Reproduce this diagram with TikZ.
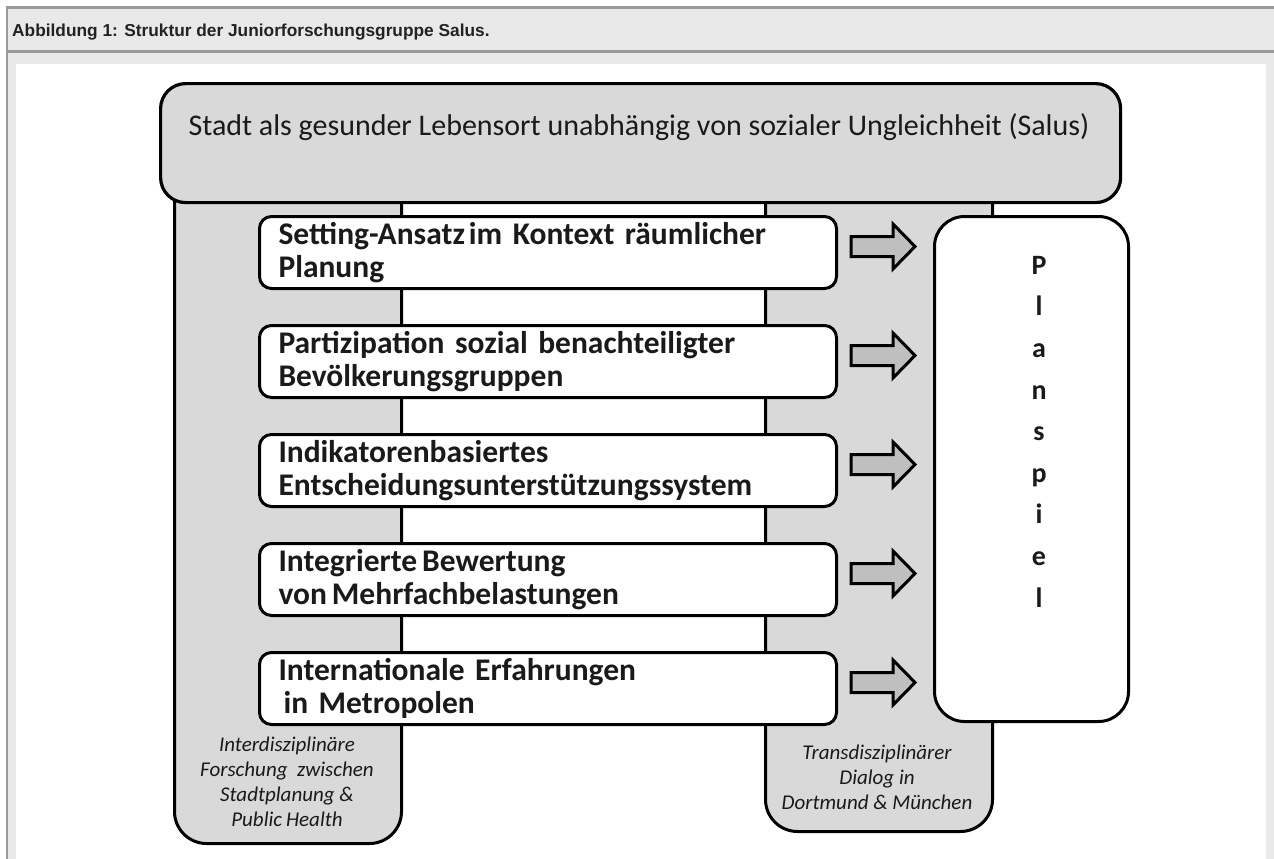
\documentclass[tikz,border=0pt]{standalone}
\usepackage{fontspec}
\setmainfont{Carlito}
\newfontfamily\arialfont{Liberation Sans}
\usetikzlibrary{calc}
\definecolor{framegray}{HTML}{E8E9E8}
\definecolor{frameline}{HTML}{9A9A9A}
\definecolor{fillgray}{HTML}{D9D9D9}
\definecolor{arrowgray}{HTML}{BFBFBF}
\definecolor{captext}{HTML}{222222}
\definecolor{ink}{HTML}{1A1A1A}
\tikzset{
  colbox/.style={draw=black, line width=3pt, fill=fillgray, rounded corners=32pt,
    inner sep=0pt, anchor=north west},
  topbox/.style={draw=black, line width=3.2pt, fill=fillgray, rounded corners=25pt,
    inner sep=0pt, anchor=north west, minimum width=960pt, minimum height=119pt},
  itembox/.style={draw=black, line width=3pt, fill=white, rounded corners=12pt,
    anchor=north west, minimum width=577pt, minimum height=72pt, text width=539pt,
    inner xsep=19pt, inner ysep=0pt, align=left, text=ink,
    font=\fontsize{31.5}{33}\selectfont\bfseries},
  planbox/.style={draw=black, line width=3pt, fill=white, rounded corners=30pt,
    inner sep=0pt, anchor=north west, minimum width=194pt, minimum height=505pt},
  arrowstyle/.style={draw=black, line width=3pt, fill=arrowgray, line join=miter},
  coltext/.style={align=center, text=ink, font=\fontsize{21}{25}\selectfont\itshape},
  blockarrow/.pic={\draw[arrowstyle] (0,-10) -- (42,-10) -- (42,-22.5) -- (64,0)
      -- (42,22.5) -- (42,10) -- (0,10) -- cycle;}
}
\begin{document}
\begin{tikzpicture}[x=1pt,y=-1pt]
\useasboundingbox (0,0) rectangle (1274,859);
% page frame
\fill[white] (0,0) rectangle (1274,859);
\fill[framegray] (7,7) rectangle (1274,859);
\fill[white] (16,64) rectangle (1266,859);
\draw[frameline, line width=2.5pt] (7,859) -- (7,7.5) -- (1274,7.5);
\draw[frameline, line width=2.5pt] (7,51.5) -- (1274,51.5);
\node[anchor=base west, inner sep=0pt, text=captext,
  font=\arialfont\bfseries\fontsize{17.3}{20}\selectfont] (caption) at (12,37)
  {Abbildung 1: Struktur der Juniorforschungsgruppe Salus.};
% columns
\node[colbox, minimum width=227pt, minimum height=692pt] (lcol) at (173,150) {};
\node[colbox, minimum width=227pt, minimum height=680pt] (rcol) at (764,150) {};
% top bar
\node[topbox] (top) at (159,82) {};
\node[text=ink, font=\fontsize{30}{34}\selectfont] (title) at (639,127)
  {Stadt als gesunder Lebensort unabhängig von sozialer Ungleichheit (Salus)};
% items
\node[itembox] (b1) at (258,215) {Setting-Ansatz\hspace{4pt}im Kontext räumlicher\\Planung};
\node[itembox] (b2) at (258,324) {Partizipation sozial benachteiligter\\Bevölkerungsgruppen};
\node[itembox] (b3) at (258,433) {Indikatorenbasiertes\\Entscheidungsunterstützungssystem};
\node[itembox] (b4) at (258,542) {Integrierte\hspace{5pt}Bewertung\\von\hspace{5pt}Mehrfachbelastungen};
\node[itembox] (b5) at (258,651) {Internationale Erfahrungen\\\hspace*{5pt}in Metropolen};
% arrows
\foreach \b in {b1,b2,b3,b4,b5}{
  \pic at ($(\b.east)+(13,-6)$) {blockarrow};
}
% Planspiel
\node[planbox] (plan) at (933,215) {};
\node[anchor=north, align=center, text=ink, inner sep=0pt,
  font=\fontsize{28}{41.6}\selectfont\bfseries] (planword) at (1039,256)
  {P\\l\\a\\n\\s\\p\\i\\e\\l};
% column texts
\node[coltext] (ltext) at (287,782)
  {Interdisziplinäre\\Forschung\ \ zwischen\\Stadtplanung \&\\Public\hspace{4pt}Health};
\node[coltext] (rtext) at (877,777)
  {Transdisziplinärer\\Dialog in\\Dortmund \& München};
\end{tikzpicture}
\end{document}
